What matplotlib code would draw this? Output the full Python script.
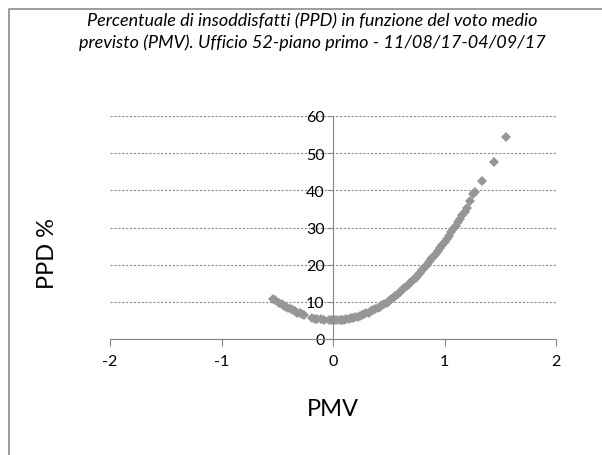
import matplotlib
matplotlib.use("Agg")
import matplotlib.pyplot as plt
from matplotlib.lines import Line2D

# PMV / PPD points
pmv_left = [-0.54, -0.52, -0.48, -0.46, -0.44, -0.42, -0.40, -0.38, -0.36, -0.34,
            -0.32, -0.30, -0.28, -0.26, -0.19, -0.16, -0.14, -0.11, -0.08, -0.04, -0.02]
ppd_left = [10.8, 10.5, 9.8, 9.4, 9.0, 8.7, 8.3, 8.0, 7.7, 7.4,
            7.1, 6.9, 6.6, 6.4, 5.7, 5.5, 5.4, 5.3, 5.1, 5.03, 5.01]

pmv_right = [0.00, 0.02, 0.04, 0.06, 0.08, 0.10, 0.12, 0.14, 0.16, 0.18,
             0.20, 0.22, 0.24, 0.26, 0.28, 0.30, 0.32, 0.34, 0.36, 0.38,
             0.40, 0.42, 0.44, 0.46, 0.48, 0.50, 0.52, 0.54, 0.56, 0.58,
             0.60, 0.62, 0.64, 0.66, 0.68, 0.70, 0.72, 0.74, 0.76, 0.78,
             0.80, 0.82, 0.84, 0.86, 0.88, 0.90, 0.92, 0.94, 0.96, 0.98,
             1.00, 1.02, 1.04, 1.06, 1.08, 1.10, 1.12, 1.14, 1.16, 1.18,
             1.20, 1.23, 1.26, 1.27, 1.34, 1.44, 1.55]
ppd_right = [5.0, 5.01, 5.03, 5.07, 5.13, 5.21, 5.30, 5.41, 5.53, 5.67,
             5.83, 6.00, 6.20, 6.40, 6.63, 6.87, 7.13, 7.41, 7.70, 8.01,
             8.33, 8.68, 9.04, 9.42, 9.81, 10.2, 10.7, 11.1, 11.6, 12.1,
             12.6, 13.1, 13.6, 14.2, 14.7, 15.3, 15.9, 16.5, 17.2, 17.8,
             18.5, 19.2, 19.9, 20.6, 21.4, 22.1, 22.9, 23.7, 24.5, 25.3,
             26.1, 27.0, 27.8, 28.7, 29.6, 30.5, 31.4, 32.4, 33.3, 34.3,
             35.3, 37.2, 38.9, 39.6, 42.5, 47.6, 54.3]

x_ticks = [-2, -1, 0, 1, 2]
y_ticks = [0, 10, 20, 30, 40, 50, 60]

title = ("Percentuale di insoddisfatti (PPD) in funzione del voto medio\n"
         "previsto (PMV). Ufficio 52-piano primo - 11/08/17-04/09/17")

plt.rcParams['font.family'] = ['Lato', 'DejaVu Sans']
plt.rcParams['axes.unicode_minus'] = False

W, H = 602, 456
fig = plt.figure(figsize=(W / 100, H / 100), dpi=100)
ax = fig.add_axes([110 / W, 1 - 340 / H, 446 / W, 223 / H])

grey = '#969696'
ax.plot(pmv_left + pmv_right, ppd_left + ppd_right, linestyle='none',
        marker='D', markersize=4.6, color=grey, markeredgewidth=0)

ax.set_xlim(-2, 2)
ax.set_ylim(0, 60)
ax.set_xticks(x_ticks)
ax.set_yticks(y_ticks)

for s in ['top', 'right']:
    ax.spines[s].set_visible(False)
ax.spines['left'].set_position(('data', 0))
ax.spines['left'].set_color('#868686')
ax.spines['bottom'].set_color('#868686')
ax.tick_params(axis='both', colors='#868686', labelcolor='black', labelsize=11.5)
ax.tick_params(axis='x', length=5, pad=6)
ax.tick_params(axis='y', length=4, pad=2)

ax.yaxis.grid(True, linestyle=(0, (2, 1.5)), color='#8c8c8c', linewidth=0.8)
ax.set_axisbelow(True)

fig.text(333 / W, 1 - 410 / H, 'PMV', ha='center', va='center', fontsize=17)
fig.text(48 / W, 1 - 254 / H, 'PPD %', ha='center', va='center',
         rotation=90, fontsize=17)
fig.text(312 / W, 1 - 32 / H, title, ha='center', va='center',
         fontsize=13, style='italic', linespacing=1.4)

# chart border (only top and left visible)
fig.add_artist(Line2D([8.5 / W, 8.5 / W, 1], [0, 1 - 10 / H, 1 - 10 / H],
                      transform=fig.transFigure, color='#8c8c8c', linewidth=1.2))

fig.savefig('out.png', dpi=100)
